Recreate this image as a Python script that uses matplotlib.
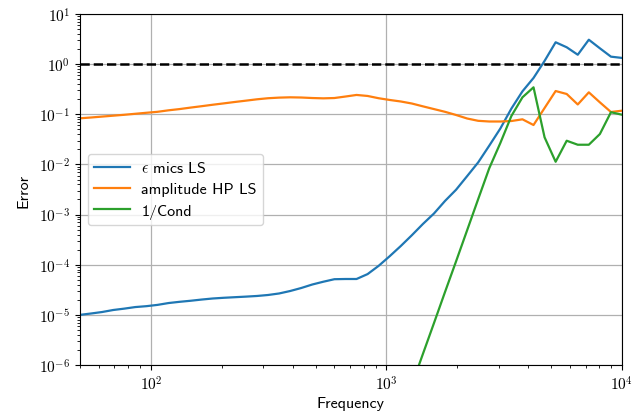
import numpy as np
import matplotlib
matplotlib.use("Agg")
import matplotlib.pyplot as plt
from matplotlib.ticker import FuncFormatter, FixedLocator, NullFormatter

plt.rcParams['font.family'] = ['cmss10', 'DejaVu Sans']
plt.rcParams['mathtext.fontset'] = 'cm'
plt.rcParams['axes.unicode_minus'] = False
plt.rcParams['font.size'] = 10

freq = [50.0, 55.7, 62.1, 69.2, 77.0, 85.8, 95.7, 106.6, 118.8, 132.3,
        147.4, 164.3, 183.0, 203.9, 227.2, 253.2, 282.1, 314.3, 350.2, 390.2,
        434.6, 484.3, 539.6, 601.2, 669.9, 746.4, 831.6, 926.6, 1032.4, 1150.3,
        1281.6, 1428.0, 1591.1, 1772.8, 1975.2, 2200.8, 2452.1, 2732.1, 3044.1, 3391.7,
        3779.0, 4210.6, 4691.4, 5227.2, 5824.1, 6489.2, 7230.2, 8055.9, 8975.9, 10000.0]

eps_mics_ls = [1.0e-5, 1.064e-5, 1.14e-5, 1.25e-5, 1.33e-5, 1.43e-5, 1.49e-5, 1.58e-5, 1.72e-5, 1.82e-5,
               1.91e-5, 2.02e-5, 2.12e-5, 2.19e-5, 2.25e-5, 2.31e-5, 2.38e-5, 2.49e-5, 2.67e-5, 2.99e-5,
               3.43e-5, 4.03e-5, 4.58e-5, 5.14e-5, 5.19e-5, 5.19e-5, 6.5e-5, 9.5e-5, 1.48e-4, 2.36e-4,
               3.87e-4, 6.49e-4, 1.05e-3, 1.87e-3, 3.13e-3, 5.85e-3, 1.10e-2, 2.37e-2, 5.20e-2, 0.130,
               0.287, 0.53, 1.16, 2.73, 2.17, 1.54, 3.07, 2.07, 1.41, 1.33]

amplitude_hp_ls = [0.0832, 0.0863, 0.0900, 0.0938, 0.0977, 0.1023, 0.1072, 0.112, 0.120, 0.127,
                   0.136, 0.145, 0.155, 0.165, 0.176, 0.187, 0.199, 0.209, 0.215, 0.218,
                   0.216, 0.211, 0.208, 0.211, 0.226, 0.243, 0.232, 0.209, 0.193, 0.180,
                   0.164, 0.144, 0.127, 0.112, 0.0968, 0.0824, 0.0741, 0.0718, 0.0718, 0.0734,
                   0.0794, 0.0611, 0.1334, 0.291, 0.254, 0.157, 0.274, 0.173, 0.111, 0.118]

inv_cond = [None] * 28 + [2.31e-8, 9.6e-8, 3.99e-7, 1.66e-6, 6.84e-6, 2.86e-5, 1.17e-4, 4.88e-4,
                          2.04e-3, 8.41e-3, 2.67e-2, 0.0925, 0.218, 0.345, 0.0347, 0.0113,
                          0.0297, 0.0247, 0.0247, 0.0404, 0.110, 0.098]

labels = [r'$\epsilon$ mics LS', 'amplitude HP LS', '1/Cond']
threshold = 1.0
x_decades = [1e2, 1e3, 1e4]
y_decades = [1e-6, 1e-5, 1e-4, 1e-3, 1e-2, 1e-1, 1e0, 1e1]

fig = plt.figure(figsize=(6.43, 4.14), dpi=100)
ax = fig.add_axes([80/643, 1 - 366/414, 542/643, 351/414])

ic = np.array([np.nan if v is None else v for v in inv_cond], dtype=float)
ax.loglog(freq, eps_mics_ls, color='#1f77b4', lw=1.6, label=labels[0])
ax.loglog(freq, amplitude_hp_ls, color='#ff7f0e', lw=1.6, label=labels[1])
ax.loglog(freq, ic, color='#2ca02c', lw=1.6, label=labels[2])
ax.axhline(threshold, color='black', ls='--', lw=1.8)

ax.set_xlim(50, 1e4)
ax.set_ylim(1e-6, 1e1)
x_minor = [m * d for d in [10, 100, 1000] for m in range(2, 10) if 50 <= m * d <= 1e4]
y_minor = [m * d for d in y_decades[:-1] for m in range(2, 10)]
ax.xaxis.set_major_locator(FixedLocator(x_decades))
ax.yaxis.set_major_locator(FixedLocator(y_decades))
ax.xaxis.set_minor_locator(FixedLocator(x_minor))
ax.yaxis.set_minor_locator(FixedLocator(y_minor))
fmt = FuncFormatter(lambda v, p: r'$10^{%d}$' % int(round(np.log10(v))))
ax.xaxis.set_major_formatter(fmt)
ax.yaxis.set_major_formatter(fmt)
ax.xaxis.set_minor_formatter(NullFormatter())
ax.yaxis.set_minor_formatter(NullFormatter())
ax.tick_params(labelsize=11)
ax.grid(True, which='major', color='#b0b0b0', lw=0.9)
ax.set_xlabel('Frequency', fontsize=11.5, labelpad=2)
ax.set_ylabel('Error', fontsize=11.5, labelpad=6)
ax.legend(loc='center left', fontsize=11.5, framealpha=0.8,
          handlelength=2.2, handletextpad=0.75, labelspacing=0.45)

fig.savefig('out.png', dpi=100)
